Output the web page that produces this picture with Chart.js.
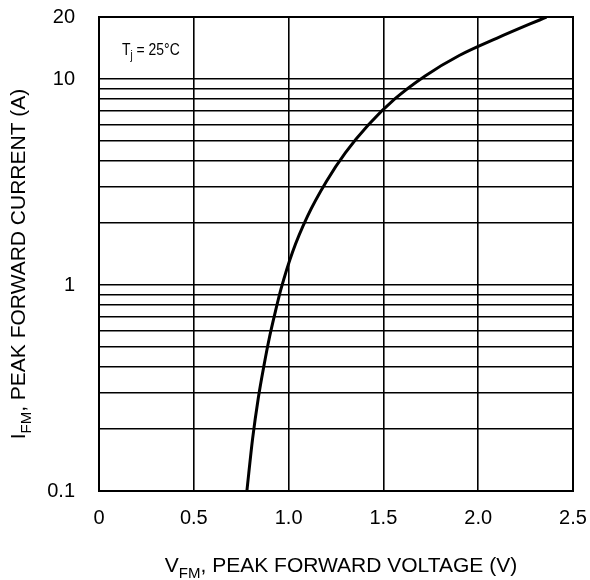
<!DOCTYPE html>
<html>
<head>
<meta charset="utf-8">
<title>Peak forward voltage</title>
<script src="https://cdn.jsdelivr.net/npm/chart.js@4.4.1/dist/chart.umd.min.js"></script>
<style>
  html, body { margin: 0; padding: 0; background: #fff; }
  #wrap { width: 590px; height: 580px; }
</style>
</head>
<body>
<div id="wrap"><canvas id="vfChart"></canvas></div>
<script>
// curve, Tj = 25°C
const voltage = [0.78, 0.81, 0.84, 0.87, 0.90, 0.93, 0.96, 1.02, 1.10, 1.20, 1.30, 1.42, 1.56, 1.72, 1.90, 2.10, 2.36];
const current = [0.1, 0.179, 0.282, 0.406, 0.562, 0.741, 0.957, 1.44, 2.16, 3.19, 4.39, 5.98, 8.0, 10.35, 13.0, 15.8, 20];

const xTicks = [0, 0.5, 1.0, 1.5, 2.0, 2.5];
const xTickLabels = ['0', '0.5', '1.0', '1.5', '2.0', '2.5'];
const yGrid = [0.1, 0.2, 0.3, 0.4, 0.5, 0.6, 0.7, 0.8, 0.9,
               1, 2, 3, 4, 5, 6, 7, 8, 9, 10, 20];
const yTickLabels = [0.1, 1, 10, 20];

const xTitle = [['V'], ['FM', true], [', PEAK FORWARD VOLTAGE (V)']];
const yTitle = [['I'], ['FM', true], [', PEAK FORWARD CURRENT (A)']];
const note = [['T'], ['j', true], [' = 25°C']];

const FONT = '"Liberation Sans", Arial, Helvetica, sans-serif';
Chart.defaults.font.family = FONT;
Chart.defaults.font.size = 20;
Chart.defaults.color = '#000';

// text with subscripts, centred (or left aligned) on a baseline
function drawParts(ctx, parts, x, y, size, subSize, subDrop, align) {
  let width = 0;
  parts.forEach(p => {
    ctx.font = (p[1] ? subSize : size) + 'px ' + FONT;
    width += ctx.measureText(p[0]).width;
  });
  let cx = align === 'left' ? x : x - width / 2;
  ctx.textAlign = 'left';
  ctx.textBaseline = 'alphabetic';
  parts.forEach(p => {
    ctx.font = (p[1] ? subSize : size) + 'px ' + FONT;
    ctx.fillText(p[0], cx, p[1] ? y + subDrop : y);
    cx += ctx.measureText(p[0]).width;
  });
}

const labelsPlugin = {
  id: 'labelsPlugin',
  afterDraw(chart) {
    const ctx = chart.ctx;
    const a = chart.chartArea;
    ctx.save();
    ctx.strokeStyle = '#000';
    ctx.lineWidth = 2;
    ctx.strokeRect(a.left, a.top, a.right - a.left, a.bottom - a.top);
    ctx.fillStyle = '#000';

    drawParts(ctx, xTitle, 341, 572, 21, 15, 6);

    ctx.save();
    ctx.translate(25, 264);
    ctx.rotate(-Math.PI / 2);
    drawParts(ctx, yTitle, 0, 0, 21, 15, 6);
    ctx.restore();

    ctx.save();
    ctx.translate(a.left + 23, a.top + 38);
    ctx.scale(0.82, 1);
    drawParts(ctx, note, 0, 0, 17, 12, 4, 'left');
    ctx.restore();
    ctx.restore();
  }
};

new Chart(document.getElementById('vfChart'), {
  type: 'line',
  data: {
    datasets: [{
      data: voltage.map((v, i) => ({x: v, y: current[i]})),
      borderColor: '#000',
      borderWidth: 3,
      pointRadius: 0,
      cubicInterpolationMode: 'monotone',
      fill: false
    }]
  },
  options: {
    responsive: true,
    maintainAspectRatio: false,
    animation: false,
    layout: {
      padding: {left: 0, right: 17, top: 17, bottom: 0}
    },
    plugins: {
      legend: {display: false},
      tooltip: {enabled: false}
    },
    scales: {
      x: {
        type: 'linear',
        min: 0,
        max: 2.5,
        afterBuildTicks: (scale) => {
          scale.ticks = xTicks.map(v => ({value: v}));
        },
        afterFit: (scale) => {
          scale.height = 89;
          scale.paddingLeft = 0;
          scale.paddingRight = 0;
        },
        ticks: {
          padding: 15,
          autoSkip: false,
          maxRotation: 0,
          callback: (v) => xTickLabels[xTicks.indexOf(v)]
        },
        grid: {color: '#000', lineWidth: 1.6, drawTicks: false},
        border: {display: true, color: '#000', width: 2}
      },
      y: {
        type: 'logarithmic',
        min: 0.1,
        max: 20,
        afterBuildTicks: (scale) => {
          scale.ticks = yGrid.map(v => ({value: v}));
        },
        afterFit: (scale) => {
          scale.width = 99;
          scale.paddingTop = 0;
          scale.paddingBottom = 0;
        },
        ticks: {
          padding: 24,
          autoSkip: false,
          callback: (v) => yTickLabels.includes(v) ? String(v) : ''
        },
        grid: {color: '#000', lineWidth: 1.6, drawTicks: false},
        border: {display: true, color: '#000', width: 2}
      }
    }
  },
  plugins: [labelsPlugin]
});
</script>
</body>
</html>
